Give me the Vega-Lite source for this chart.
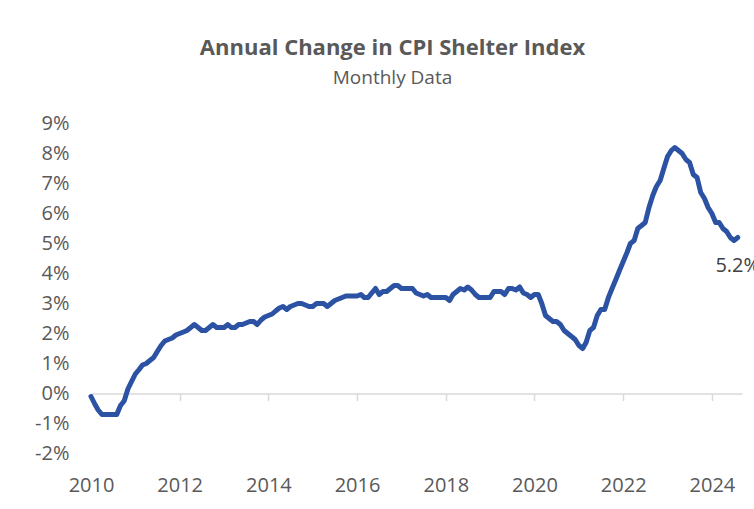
{
  "$schema": "https://vega.github.io/schema/vega-lite/v6.json",
  "autosize": "none",
  "width": 651,
  "height": 330,
  "padding": {"left": 91, "top": 123.5, "right": 12, "bottom": 55.5},
  "background": "white",
  "config": {"view": {"stroke": null}, "font": "Open Sans"},
  "title": {
    "text": "Annual Change in CPI Shelter Index",
    "subtitle": "Monthly Data",
    "anchor": "middle",
    "frame": "group",
    "dx": -24,
    "offset": 25,
    "font": "Open Sans",
    "fontSize": 22,
    "fontWeight": "bold",
    "color": "#595959",
    "subtitleFont": "Open Sans",
    "subtitleFontSize": 19,
    "subtitleColor": "#595959",
    "subtitlePadding": 9
  },
  "datasets": {
    "cpi": [
      {"d":"2010-01-01","v":-0.1},{"d":"2010-02-01","v":-0.35},{"d":"2010-03-01","v":-0.55},{"d":"2010-04-01","v":-0.7},{"d":"2010-05-01","v":-0.7},{"d":"2010-06-01","v":-0.7},{"d":"2010-07-01","v":-0.7},{"d":"2010-08-01","v":-0.7},{"d":"2010-09-01","v":-0.4},{"d":"2010-10-01","v":-0.25},{"d":"2010-11-01","v":0.15},{"d":"2010-12-01","v":0.4},
      {"d":"2011-01-01","v":0.65},{"d":"2011-02-01","v":0.8},{"d":"2011-03-01","v":0.95},{"d":"2011-04-01","v":1.0},{"d":"2011-05-01","v":1.1},{"d":"2011-06-01","v":1.2},{"d":"2011-07-01","v":1.4},{"d":"2011-08-01","v":1.6},{"d":"2011-09-01","v":1.75},{"d":"2011-10-01","v":1.8},{"d":"2011-11-01","v":1.85},{"d":"2011-12-01","v":1.95},
      {"d":"2012-01-01","v":2.0},{"d":"2012-02-01","v":2.05},{"d":"2012-03-01","v":2.1},{"d":"2012-04-01","v":2.2},{"d":"2012-05-01","v":2.3},{"d":"2012-06-01","v":2.2},{"d":"2012-07-01","v":2.1},{"d":"2012-08-01","v":2.1},{"d":"2012-09-01","v":2.2},{"d":"2012-10-01","v":2.3},{"d":"2012-11-01","v":2.2},{"d":"2012-12-01","v":2.2},
      {"d":"2013-01-01","v":2.2},{"d":"2013-02-01","v":2.3},{"d":"2013-03-01","v":2.2},{"d":"2013-04-01","v":2.2},{"d":"2013-05-01","v":2.3},{"d":"2013-06-01","v":2.3},{"d":"2013-07-01","v":2.35},{"d":"2013-08-01","v":2.4},{"d":"2013-09-01","v":2.4},{"d":"2013-10-01","v":2.3},{"d":"2013-11-01","v":2.45},{"d":"2013-12-01","v":2.55},
      {"d":"2014-01-01","v":2.6},{"d":"2014-02-01","v":2.65},{"d":"2014-03-01","v":2.75},{"d":"2014-04-01","v":2.85},{"d":"2014-05-01","v":2.9},{"d":"2014-06-01","v":2.8},{"d":"2014-07-01","v":2.9},{"d":"2014-08-01","v":2.95},{"d":"2014-09-01","v":3.0},{"d":"2014-10-01","v":3.0},{"d":"2014-11-01","v":2.95},{"d":"2014-12-01","v":2.9},
      {"d":"2015-01-01","v":2.9},{"d":"2015-02-01","v":3.0},{"d":"2015-03-01","v":3.0},{"d":"2015-04-01","v":3.0},{"d":"2015-05-01","v":2.9},{"d":"2015-06-01","v":3.0},{"d":"2015-07-01","v":3.1},{"d":"2015-08-01","v":3.15},{"d":"2015-09-01","v":3.2},{"d":"2015-10-01","v":3.25},{"d":"2015-11-01","v":3.25},{"d":"2015-12-01","v":3.25},
      {"d":"2016-01-01","v":3.25},{"d":"2016-02-01","v":3.3},{"d":"2016-03-01","v":3.2},{"d":"2016-04-01","v":3.2},{"d":"2016-05-01","v":3.35},{"d":"2016-06-01","v":3.5},{"d":"2016-07-01","v":3.3},{"d":"2016-08-01","v":3.4},{"d":"2016-09-01","v":3.4},{"d":"2016-10-01","v":3.5},{"d":"2016-11-01","v":3.6},{"d":"2016-12-01","v":3.6},
      {"d":"2017-01-01","v":3.5},{"d":"2017-02-01","v":3.5},{"d":"2017-03-01","v":3.5},{"d":"2017-04-01","v":3.5},{"d":"2017-05-01","v":3.35},{"d":"2017-06-01","v":3.3},{"d":"2017-07-01","v":3.25},{"d":"2017-08-01","v":3.3},{"d":"2017-09-01","v":3.2},{"d":"2017-10-01","v":3.2},{"d":"2017-11-01","v":3.2},{"d":"2017-12-01","v":3.2},
      {"d":"2018-01-01","v":3.2},{"d":"2018-02-01","v":3.1},{"d":"2018-03-01","v":3.3},{"d":"2018-04-01","v":3.4},{"d":"2018-05-01","v":3.5},{"d":"2018-06-01","v":3.45},{"d":"2018-07-01","v":3.55},{"d":"2018-08-01","v":3.45},{"d":"2018-09-01","v":3.3},{"d":"2018-10-01","v":3.2},{"d":"2018-11-01","v":3.2},{"d":"2018-12-01","v":3.2},
      {"d":"2019-01-01","v":3.2},{"d":"2019-02-01","v":3.4},{"d":"2019-03-01","v":3.4},{"d":"2019-04-01","v":3.4},{"d":"2019-05-01","v":3.3},{"d":"2019-06-01","v":3.5},{"d":"2019-07-01","v":3.5},{"d":"2019-08-01","v":3.45},{"d":"2019-09-01","v":3.55},{"d":"2019-10-01","v":3.35},{"d":"2019-11-01","v":3.3},{"d":"2019-12-01","v":3.2},
      {"d":"2020-01-01","v":3.3},{"d":"2020-02-01","v":3.3},{"d":"2020-03-01","v":3.0},{"d":"2020-04-01","v":2.6},{"d":"2020-05-01","v":2.5},{"d":"2020-06-01","v":2.4},{"d":"2020-07-01","v":2.4},{"d":"2020-08-01","v":2.3},{"d":"2020-09-01","v":2.1},{"d":"2020-10-01","v":2.0},{"d":"2020-11-01","v":1.9},{"d":"2020-12-01","v":1.8},
      {"d":"2021-01-01","v":1.6},{"d":"2021-02-01","v":1.5},{"d":"2021-03-01","v":1.7},{"d":"2021-04-01","v":2.1},{"d":"2021-05-01","v":2.2},{"d":"2021-06-01","v":2.6},{"d":"2021-07-01","v":2.8},{"d":"2021-08-01","v":2.8},{"d":"2021-09-01","v":3.2},{"d":"2021-10-01","v":3.5},{"d":"2021-11-01","v":3.8},{"d":"2021-12-01","v":4.1},
      {"d":"2022-01-01","v":4.4},{"d":"2022-02-01","v":4.7},{"d":"2022-03-01","v":5.0},{"d":"2022-04-01","v":5.1},{"d":"2022-05-01","v":5.5},{"d":"2022-06-01","v":5.6},{"d":"2022-07-01","v":5.7},{"d":"2022-08-01","v":6.2},{"d":"2022-09-01","v":6.6},{"d":"2022-10-01","v":6.9},{"d":"2022-11-01","v":7.1},{"d":"2022-12-01","v":7.5},
      {"d":"2023-01-01","v":7.9},{"d":"2023-02-01","v":8.1},{"d":"2023-03-01","v":8.2},{"d":"2023-04-01","v":8.1},{"d":"2023-05-01","v":8.0},{"d":"2023-06-01","v":7.8},{"d":"2023-07-01","v":7.7},{"d":"2023-08-01","v":7.3},{"d":"2023-09-01","v":7.2},{"d":"2023-10-01","v":6.7},{"d":"2023-11-01","v":6.5},{"d":"2023-12-01","v":6.2},
      {"d":"2024-01-01","v":6.0},{"d":"2024-02-01","v":5.7},{"d":"2024-03-01","v":5.7},{"d":"2024-04-01","v":5.5},{"d":"2024-05-01","v":5.4},{"d":"2024-06-01","v":5.2},{"d":"2024-07-01","v":5.1},{"d":"2024-08-01","v":5.2}
    ]
  },
  "data": {"name": "cpi"},
  "encoding": {
    "y": {
      "field": "v",
      "type": "quantitative",
      "scale": {"domain": [-2, 9], "nice": false, "zero": false},
      "axis": {
        "title": null,
        "values": [-2, -1, 0, 1, 2, 3, 4, 5, 6, 7, 8, 9],
        "labelExpr": "datum.value + '%'",
        "domain": false,
        "ticks": false,
        "grid": false,
        "labelPadding": 22,
        "labelFont": "Open Sans",
        "labelFontSize": 20,
        "labelColor": "#595959"
      }
    }
  },
  "layer": [
    {
      "mark": {"type": "line", "color": "#2C52A3", "strokeWidth": 5, "strokeCap": "round", "strokeJoin": "round"},
      "encoding": {
        "x": {
          "field": "d",
          "type": "temporal",
          "scale": {"domain": [{"year": 2010, "month": 1, "date": 1}, {"year": 2024, "month": 9, "date": 5}]},
          "axis": {
            "orient": "bottom",
            "title": null,
            "values": [{"year": 2010, "month": 1, "date": 1}, {"year": 2012, "month": 1, "date": 1}, {"year": 2014, "month": 1, "date": 1}, {"year": 2016, "month": 1, "date": 1}, {"year": 2018, "month": 1, "date": 1}, {"year": 2020, "month": 1, "date": 1}, {"year": 2022, "month": 1, "date": 1}, {"year": 2024, "month": 1, "date": 1}],
            "format": "%Y",
            "domain": false,
            "ticks": false,
            "grid": false,
            "labelFlush": false,
            "labelOverlap": false,
            "labelPadding": 22,
            "labelFont": "Open Sans",
            "labelFontSize": 20,
            "labelColor": "#595959"
          }
        }
      }
    },
    {
      "transform": [
        {"window": [{"op": "row_number", "as": "rn"}], "sort": [{"field": "d", "order": "descending"}]},
        {"filter": "datum.rn == 1"},
        {"calculate": "format(datum.v, '.1f') + '%'", "as": "label"}
      ],
      "mark": {"type": "text", "align": "center", "baseline": "middle", "dy": 28, "font": "Open Sans", "fontSize": 20, "color": "#404040"},
      "encoding": {
        "x": {
          "field": "d",
          "type": "temporal",
          "scale": {"domain": [{"year": 2010, "month": 1, "date": 1}, {"year": 2024, "month": 9, "date": 5}]},
          "axis": {
            "orient": "bottom",
            "offset": -60,
            "title": null,
            "values": [{"year": 2012, "month": 1, "date": 1}, {"year": 2014, "month": 1, "date": 1}, {"year": 2016, "month": 1, "date": 1}, {"year": 2018, "month": 1, "date": 1}, {"year": 2020, "month": 1, "date": 1}, {"year": 2022, "month": 1, "date": 1}, {"year": 2024, "month": 1, "date": 1}],
            "labels": false,
            "grid": false,
            "domain": true,
            "domainColor": "#D9D9D9",
            "domainWidth": 1.5,
            "ticks": true,
            "tickColor": "#D9D9D9",
            "tickWidth": 1.5,
            "tickSize": 7
          }
        },
        "text": {"field": "label"}
      }
    }
  ],
  "resolve": {"axis": {"x": "independent"}}
}
